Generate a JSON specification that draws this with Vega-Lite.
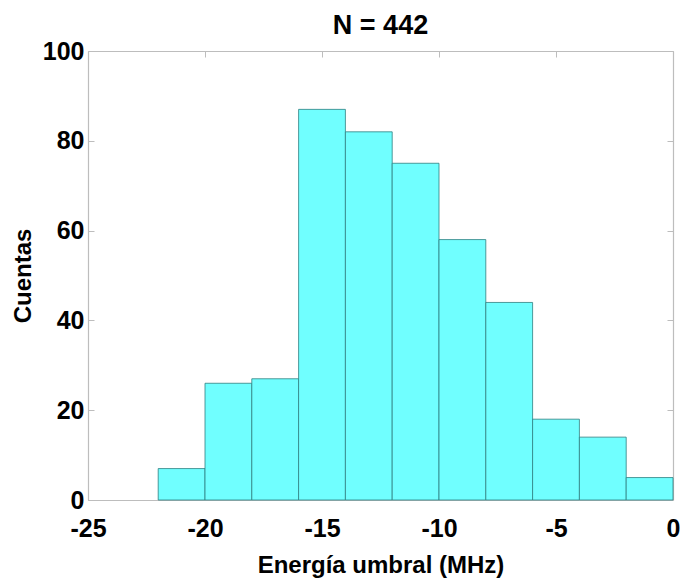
{
  "$schema": "https://vega.github.io/schema/vega-lite/v6.json",
  "width": 585,
  "height": 449,
  "autosize": {"type": "none"},
  "padding": {"left": 88, "top": 51, "right": 11, "bottom": 78},
  "background": "white",
  "title": {"text": "N = 442", "font": "Liberation Sans", "fontSize": 27, "fontWeight": "bold", "color": "black", "offset": -1, "anchor": "middle"},
  "config": {
    "view": {"stroke": null},
    "axis": {
      "domainColor": "#bdbdbd", "domainWidth": 1.2,
      "tickColor": "#bdbdbd", "tickSize": -6, "tickWidth": 1,
      "grid": false,
      "labelFont": "Liberation Sans", "labelFontSize": 25, "labelFontWeight": "bold", "labelColor": "black",
      "titleFont": "Liberation Sans", "titleFontSize": 24, "titleFontWeight": "bold", "titleColor": "black"
    }
  },
  "data": {"values": [
    {"lo": -22, "hi": -20, "count": 7},
    {"lo": -20, "hi": -18, "count": 26},
    {"lo": -18, "hi": -16, "count": 27},
    {"lo": -16, "hi": -14, "count": 87},
    {"lo": -14, "hi": -12, "count": 82},
    {"lo": -12, "hi": -10, "count": 75},
    {"lo": -10, "hi": -8, "count": 58},
    {"lo": -8, "hi": -6, "count": 44},
    {"lo": -6, "hi": -4, "count": 18},
    {"lo": -4, "hi": -2, "count": 14},
    {"lo": -2, "hi": 0, "count": 5}
  ]},
  "layer": [
    {
      "mark": {"type": "bar", "fill": "#70ffff", "stroke": "#2f7f80", "strokeWidth": 0.8},
      "encoding": {
        "x": {"field": "lo", "type": "quantitative", "scale": {"domain": [-25, 0], "nice": false, "zero": false},
              "axis": {"orient": "bottom", "title": "Energía umbral (MHz)", "values": [-25, -20, -15, -10, -5, 0], "labelPadding": 22, "titlePadding": 12, "labelFlush": false, "labelExpr": "replace(datum.label, '−', '-')"}},
        "x2": {"field": "hi"},
        "y": {"field": "count", "type": "quantitative", "scale": {"domain": [0, 100], "nice": false},
              "axis": {"orient": "left", "title": "Cuentas", "values": [0, 20, 40, 60, 80, 100], "labelPadding": 10, "titlePadding": 7, "labelFlush": false, "labelOffset": 0}},
        "y2": {"datum": 0}
      }
    },
    {
      "mark": {"type": "bar", "opacity": 0},
      "encoding": {
        "x": {"field": "lo", "type": "quantitative", "axis": {"orient": "top", "labels": false, "title": null, "values": [-25, -20, -15, -10, -5, 0]}},
        "x2": {"field": "hi"},
        "y": {"field": "count", "type": "quantitative", "axis": {"orient": "right", "labels": false, "title": null, "values": [0, 20, 40, 60, 80, 100]}},
        "y2": {"datum": 0}
      }
    }
  ]
}
